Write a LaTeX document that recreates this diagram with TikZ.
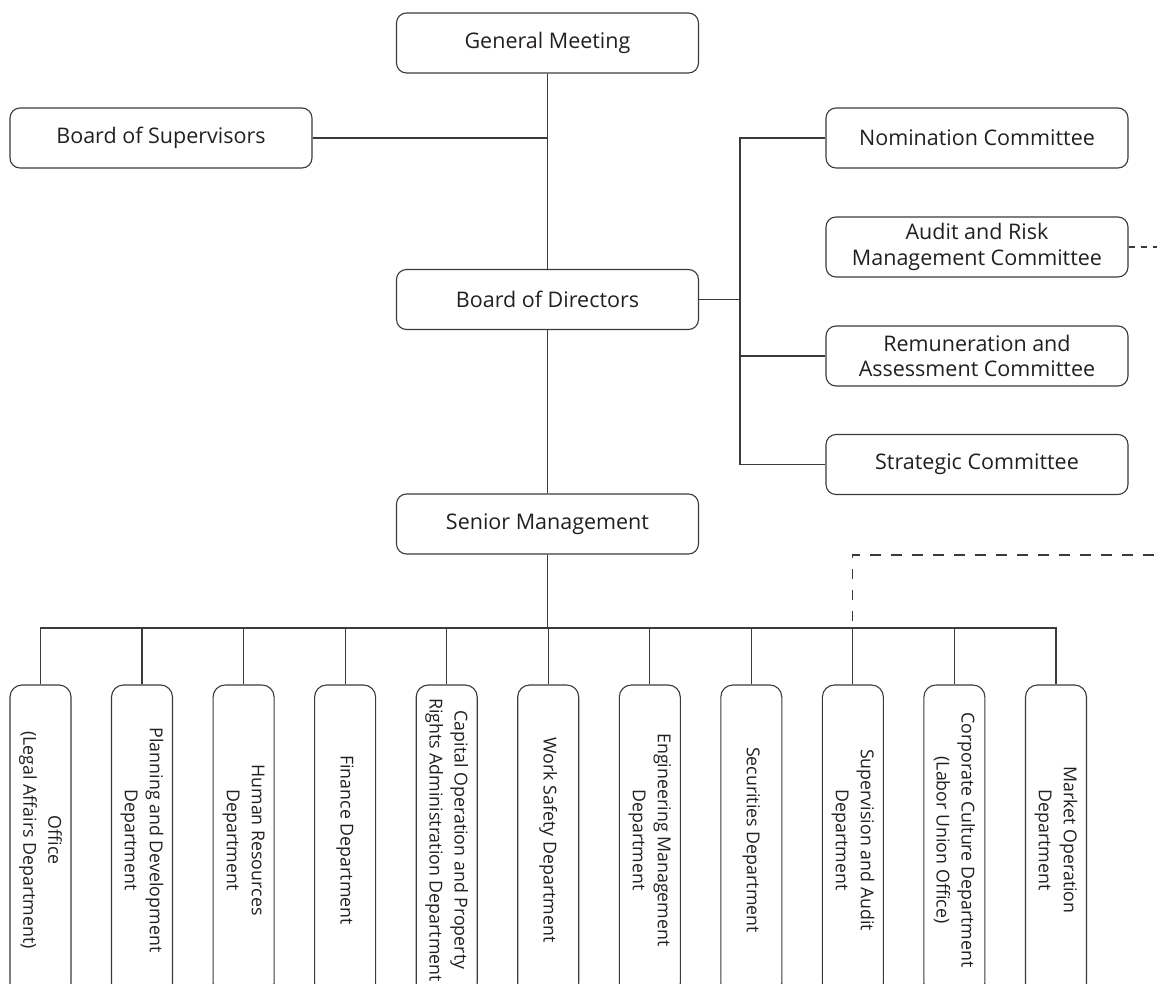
\documentclass[tikz,border=0pt]{standalone}
\usepackage{fontspec}
\setmainfont{Open Sans}
\definecolor{linec}{HTML}{3D3936}
\definecolor{textc}{HTML}{231F20}
\tikzset{
  box/.style={draw=linec, line width=1.1pt, rounded corners=10pt, minimum width=302pt,
    minimum height=60pt, align=center, text=textc, inner sep=0pt,
    font=\fontsize{21.5}{25.5}\selectfont},
  dept/.style={box, rotate=-90, minimum width=310pt, minimum height=61pt, rounded corners=12pt,
    font=\fontsize{17.8}{25}\selectfont},
  conn/.style={draw=linec, line width=1.1pt},
  dashA/.style={conn, dash pattern=on 6pt off 6pt},
  dashB/.style={conn, dash pattern=on 10.5pt off 10.5pt}
}
\begin{document}
\begin{tikzpicture}[x=1pt,y=-1pt]
\useasboundingbox (0,0) rectangle (1157,984);
\clip (0,0) rectangle (1157,984);
\node[box] (gm) at (547.5,43) {General Meeting};
\node[box] (bos) at (161,138) {Board of Supervisors};
\node[box] (bod) at (547.5,299.5) {Board of Directors};
\node[box] (sm) at (547.5,524) {Senior Management};
\node[box] (nom) at (977,138) {Nomination Committee};
\node[box] (aud) at (977,247) {Audit and Risk\\Management Committee};
\node[box] (rem) at (977,356) {Remuneration and\\Assessment Committee};
\node[box] (str) at (977,464.5) {Strategic Committee};
\node[dept] (d1) at (40.5,840) {Office\\(Legal Affairs Department)};
\node[dept] (d2) at (142,840) {Planning and Development\\Department};
\node[dept] (d3) at (243.6,840) {Human Resources\\Department};
\node[dept] (d4) at (345.1,840) {Finance Department};
\node[dept] (d5) at (446.7,840) {Capital Operation and Property\\Rights Administration Department};
\node[dept] (d6) at (548.2,840) {Work Safety Department};
\node[dept] (d7) at (649.8,840) {Engineering Management\\Department};
\node[dept] (d8) at (751.3,840) {Securities Department};
\node[dept] (d9) at (852.9,840) {Supervision and Audit\\Department};
\node[dept] (d10) at (954.4,840) {Corporate Culture Department\\(Labor Union Office)};
\node[dept] (d11) at (1056,840) {Market Operation\\Department};
\coordinate (cbus) at (740,0);
\coordinate (bus) at (547.5,628);
\coordinate (e1) at (1157,247);
\coordinate (e2) at (1157,555);
% main spine
\draw[conn] (gm.south) -- (bod.north);
\draw[conn] (bos.east) -- (bos.east -| gm.south);
\draw[conn] (bod.south) -- (sm.north);
\draw[conn] (sm.south) -- (bus);
% committees
\draw[conn] (nom.west) -- (nom.west -| cbus) -- (str.west -| cbus) -- (str.west);
\draw[conn] (rem.west) -- (rem.west -| cbus);
\draw[conn] (bod.east) -- (bod.east -| cbus);
% departments bus
\draw[conn] (d1.west) -- (d1.west |- bus) -- (d11.west |- bus) -- (d11.west);
\foreach \i in {2,...,10} {\draw[conn] (d\i.west) -- (d\i.west |- bus);}
% dashed
\draw[dashA] (aud.east) -- (e1);
\draw[dashB] (d9.west) -- (d9.west |- e2) -- (e2);
\end{tikzpicture}
\end{document}
